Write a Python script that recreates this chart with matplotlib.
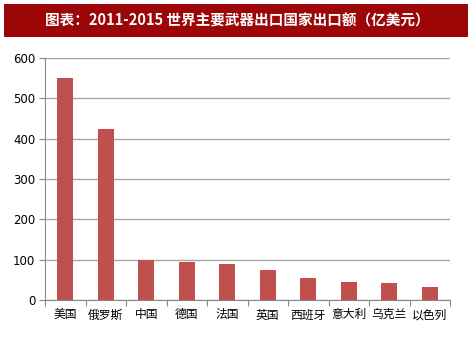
import matplotlib
matplotlib.use("Agg")
import matplotlib.pyplot as plt
from matplotlib.patches import Rectangle

plt.rcParams['font.family'] = ['Noto Sans CJK SC', 'DejaVu Sans']

countries = ["美国", "俄罗斯", "中国", "德国", "法国", "英国", "西班牙", "意大利", "乌克兰", "以色列"]
exports = [550, 424, 100, 95, 90, 75, 54, 44, 41, 33]
y_ticks = [0, 100, 200, 300, 400, 500, 600]
title = "图表：2011-2015 世界主要武器出口国家出口额（亿美元）"

fig = plt.figure(figsize=(4.74, 3.46), dpi=100)

# title banner
fig.patches.append(Rectangle((4 / 474, 1 - 37 / 346), 464 / 474, 33 / 346,
                             transform=fig.transFigure, facecolor="#9C0606",
                             edgecolor="none", zorder=0))
fig.text(0.5, 1 - 20.5 / 346, title, color="white", fontsize=10.5,
         fontweight="bold", ha="center", va="center")

ax = fig.add_axes([45 / 474, 46 / 346, 405 / 474, 242 / 346])
x = list(range(len(countries)))
ax.bar(x, exports, width=0.4, color="#C0504D", zorder=3)

ax.set_xlim(-0.5, len(countries) - 0.5)
ax.set_ylim(0, 600)
ax.set_yticks(y_ticks)
ax.set_yticklabels([str(v) for v in y_ticks], family="DejaVu Sans", fontsize=8.5)
ax.yaxis.grid(True, color="#A6A6A6", linewidth=1.0, zorder=0)

ax.set_xticks([i - 0.5 for i in range(len(countries) + 1)])
ax.set_xticklabels([])
ax.set_xticks(x, minor=True)
ax.set_xticklabels(countries, minor=True, fontsize=8.5)
ax.tick_params(axis="x", which="minor", length=0, pad=6)
ax.tick_params(axis="x", which="major", length=4, color="#888888")
ax.tick_params(axis="y", length=4, color="#888888", pad=3)

for s in ("top", "right"):
    ax.spines[s].set_visible(False)
for s in ("left", "bottom"):
    ax.spines[s].set_color("#888888")

fig.savefig("out.png", dpi=100)
